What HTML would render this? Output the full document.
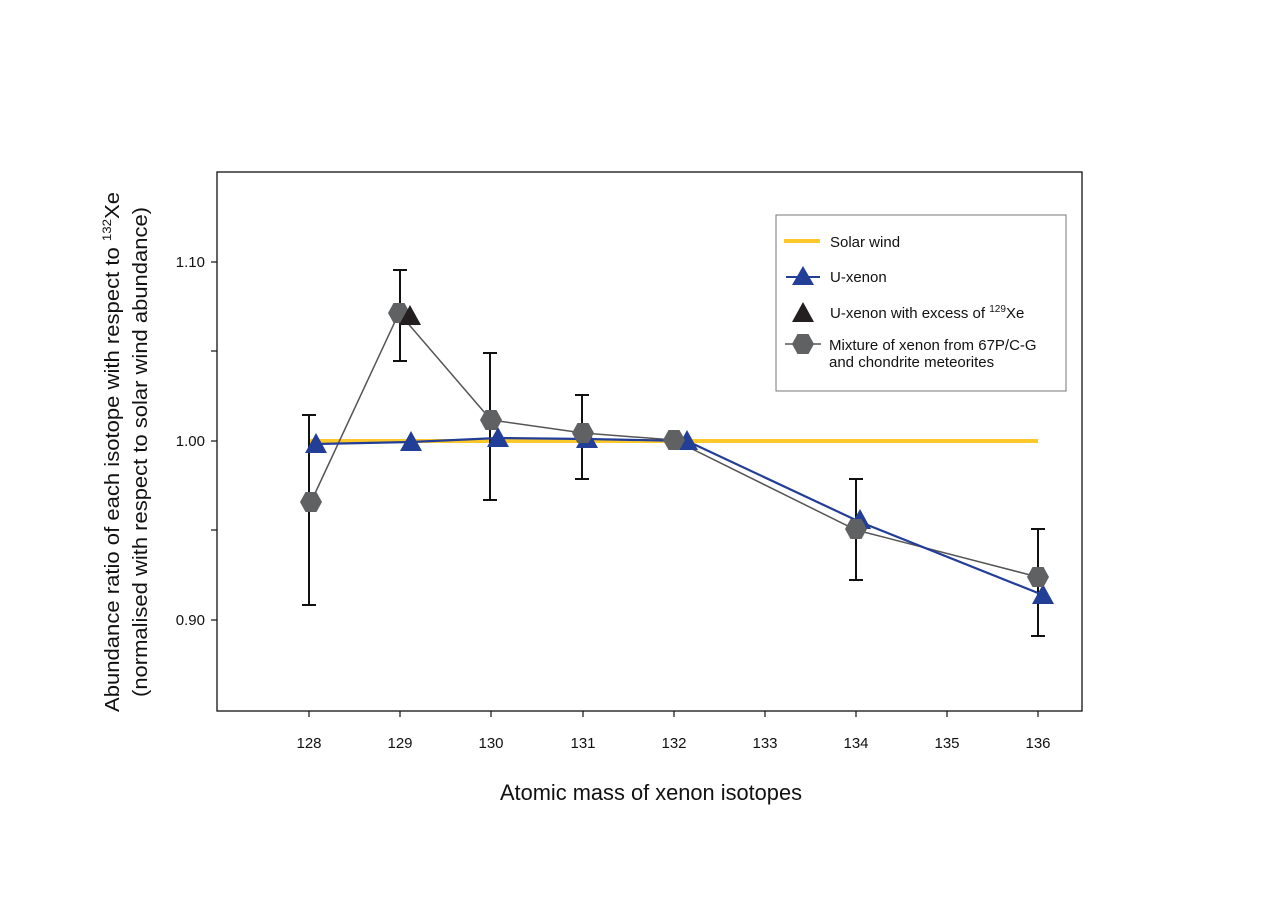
<!DOCTYPE html>
<html><head><meta charset="utf-8"><style>
html,body{margin:0;padding:0;background:#fff;}
svg text{font-family:"Liberation Sans",sans-serif;fill:#111;}
</style></head><body>
<svg width="1280" height="905" viewBox="0 0 1280 905" xmlns="http://www.w3.org/2000/svg">
<rect x="217" y="172" width="865" height="539" fill="none" stroke="#111" stroke-width="1.3"/>
<g stroke="#111" stroke-width="1.2">
<line x1="309" y1="711" x2="309" y2="717"/><line x1="400" y1="711" x2="400" y2="717"/><line x1="491" y1="711" x2="491" y2="717"/><line x1="583" y1="711" x2="583" y2="717"/><line x1="674" y1="711" x2="674" y2="717"/><line x1="765" y1="711" x2="765" y2="717"/><line x1="856" y1="711" x2="856" y2="717"/><line x1="947" y1="711" x2="947" y2="717"/><line x1="1038" y1="711" x2="1038" y2="717"/>
<line x1="211" y1="262" x2="217" y2="262"/><line x1="211" y1="351" x2="217" y2="351"/><line x1="211" y1="441" x2="217" y2="441"/><line x1="211" y1="530" x2="217" y2="530"/><line x1="211" y1="620" x2="217" y2="620"/>
</g>
<g font-size="15" text-anchor="middle">
<text x="309" y="748">128</text><text x="400" y="748">129</text><text x="491" y="748">130</text><text x="583" y="748">131</text><text x="674" y="748">132</text><text x="765" y="748">133</text><text x="856" y="748">134</text><text x="947" y="748">135</text><text x="1038" y="748">136</text>
</g>
<g font-size="15" text-anchor="end">
<text x="205" y="267">1.10</text><text x="205" y="446">1.00</text><text x="205" y="625">0.90</text>
</g>
<text x="651" y="800" font-size="22" text-anchor="middle" textLength="302" lengthAdjust="spacingAndGlyphs">Atomic mass of xenon isotopes</text>
<g transform="translate(119,452) rotate(-90)" font-size="20" text-anchor="middle">
<text x="0" y="0" textLength="520" lengthAdjust="spacingAndGlyphs">Abundance ratio of each isotope with respect to <tspan font-size="12" dy="-8">132</tspan><tspan dy="8">Xe</tspan></text>
<text x="0" y="28" textLength="490" lengthAdjust="spacingAndGlyphs">(normalised with respect to solar wind abundance)</text>
</g>
<line x1="309" y1="441" x2="1038" y2="441" stroke="#fcc82a" stroke-width="4"/>
<g stroke="#111" stroke-width="2">
<path d="M309 415V605M302 415h14M302 605h14"/>
<path d="M400 270V361M393 270h14M393 361h14"/>
<path d="M490 353V500M483 353h14M483 500h14"/>
<path d="M582 395V479M575 395h14M575 479h14"/>
<path d="M856 479V580M849 479h14M849 580h14"/>
<path d="M1038 529V636M1031 529h14M1031 636h14"/>
</g>
<polyline points="311,502 399,313 491,420 583,433 674,440 856,530 1038,577" fill="none" stroke="#555" stroke-width="1.5"/>
<polyline points="316,444 411,442 498,438 587,439 687,441 860,522 1043,595" fill="none" stroke="#233e97" stroke-width="2.2"/>
<defs>
<polygon id="hx" points="-11,0 -5.5,-10 5.5,-10 11,0 5.5,10 -5.5,10" fill="#606163"/>
<polygon id="tr" points="0,-11 11,9 -11,9" fill="#233e97"/>
</defs>
<g>
<use href="#tr" x="316" y="444"/><use href="#tr" x="411" y="442"/><use href="#tr" x="498" y="438"/><use href="#tr" x="587" y="439"/><use href="#tr" x="687" y="441"/><use href="#tr" x="860" y="520"/><use href="#tr" x="1043" y="595"/>
<use href="#hx" x="311" y="502"/><use href="#hx" x="399" y="313"/>
<polygon points="410,305 421,325 399,325" fill="#231f20"/>
<use href="#hx" x="491" y="420"/><use href="#hx" x="583" y="433"/><use href="#hx" x="674" y="440"/><use href="#hx" x="856" y="529"/><use href="#hx" x="1038" y="577"/>
</g>
<rect x="776" y="215" width="290" height="176" fill="#fff" stroke="#777" stroke-width="1"/>
<line x1="784" y1="241" x2="820" y2="241" stroke="#fcc82a" stroke-width="4"/>
<text x="830" y="247" font-size="15">Solar wind</text>
<line x1="786" y1="277" x2="820" y2="277" stroke="#233e97" stroke-width="2"/>
<polygon points="803,266 814,285 792,285" fill="#233e97"/>
<text x="830" y="282" font-size="15">U-xenon</text>
<polygon points="803,302 814,322 792,322" fill="#231f20"/>
<text x="830" y="318" font-size="15">U-xenon with excess of <tspan font-size="10" dy="-6">129</tspan><tspan dy="6">Xe</tspan></text>
<line x1="785" y1="344" x2="821" y2="344" stroke="#555" stroke-width="1.5"/>
<use href="#hx" x="803" y="344"/>
<text x="829" y="350" font-size="15">Mixture of xenon from 67P/C-G</text>
<text x="829" y="367" font-size="15">and chondrite meteorites</text>
</svg>
</body></html>
